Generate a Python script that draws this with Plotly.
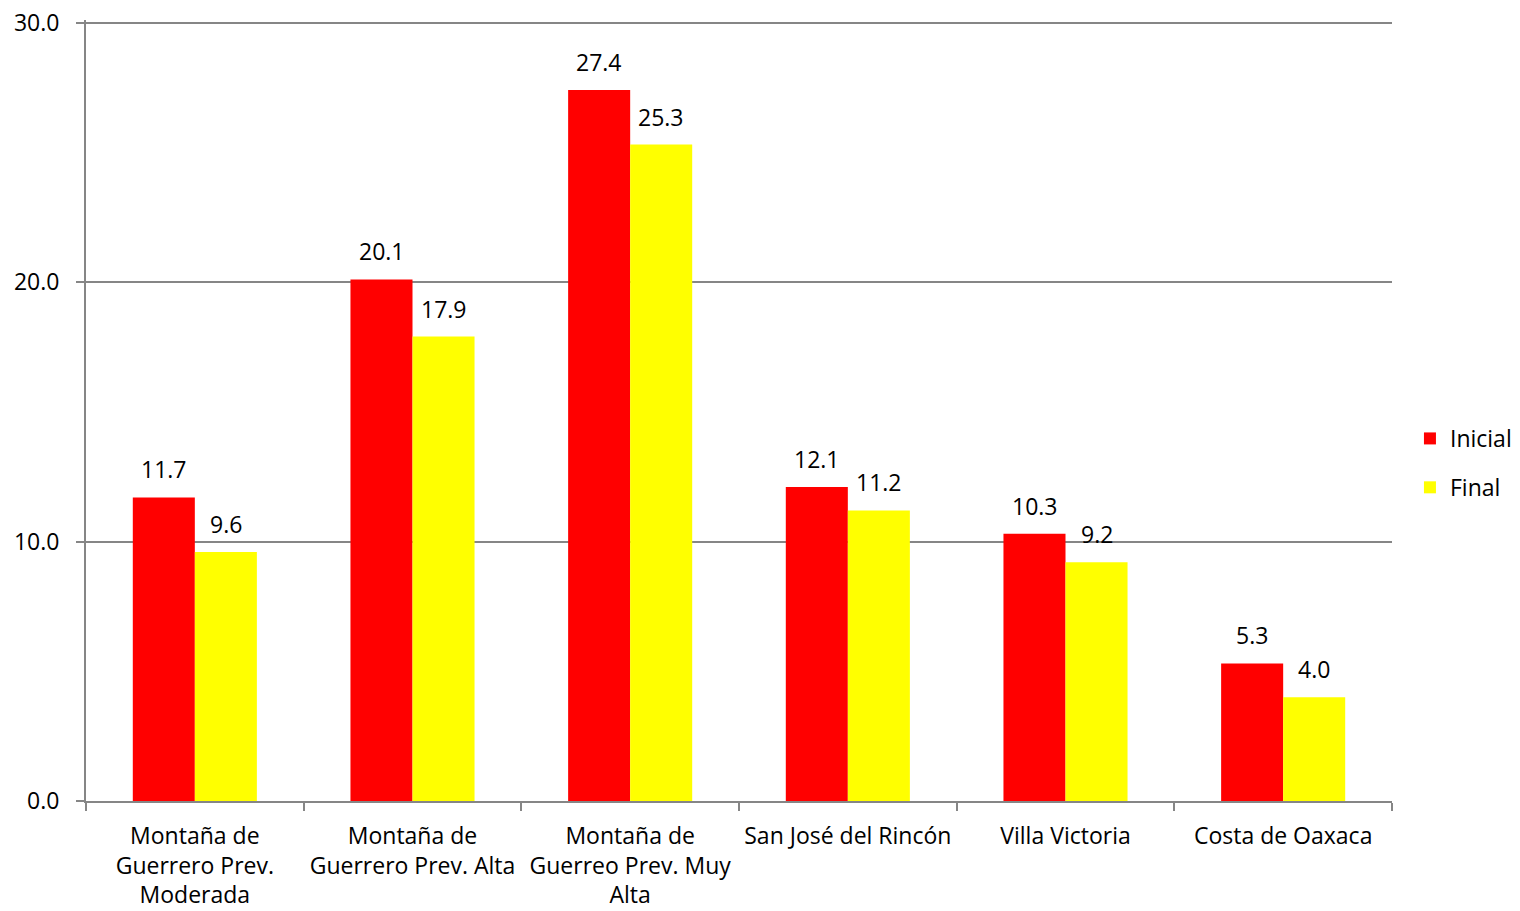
import plotly.graph_objects as go

categories = [
    "Montaña de<br>Guerrero Prev.<br>Moderada",
    "Montaña de<br>Guerrero Prev. Alta",
    "Montaña de<br>Guerreo Prev. Muy<br>Alta",
    "San José del Rincón",
    "Villa Victoria",
    "Costa de Oaxaca",
]
inicial = [11.7, 20.1, 27.4, 12.1, 10.3, 5.3]
final = [9.6, 17.9, 25.3, 11.2, 9.2, 4.0]

FONT = "Open Sans"
FS = 23

fig = go.Figure()

fig.add_trace(go.Bar(
    x=categories, y=inicial, name="Inicial", legendgroup="a",
    marker=dict(color="#ff0000", line=dict(width=0)),
))
fig.add_trace(go.Bar(
    x=categories, y=final, name="Final", legendgroup="b",
    marker=dict(color="#ffff00", line=dict(width=0)),
))

# value labels above each bar (offset half a bar to the left/right)
for cat, vi, vf in zip(categories, inicial, final):
    for val, shift in ((vi, -31), (vf, 31)):
        fig.add_annotation(
            x=cat, y=val, text=f"{val:.1f}", showarrow=False,
            xshift=shift, yshift=28, yanchor="middle",
            font=dict(family=FONT, size=FS, color="#000000"),
        )

fig.update_layout(
    width=1520, height=911,
    margin=dict(l=86, r=128, t=20, b=110),
    barmode="group", bargap=0.43, bargroupgap=0,
    plot_bgcolor="white", paper_bgcolor="white",
    font=dict(family=FONT, size=FS, color="#000000"),
    showlegend=True,
    legend=dict(xref="container", yref="container", x=0.9276, y=0.4918,
                xanchor="left", yanchor="middle",
                font=dict(family=FONT, size=FS), traceorder="grouped",
                tracegroupgap=16, itemwidth=30, bgcolor="rgba(0,0,0,0)"),
)

fig.update_xaxes(
    automargin=False, tickangle=0, ticklabelstandoff=13,
    showline=True, linecolor="#868686", linewidth=2,
    ticks="outside", tickson="boundaries", ticklen=8, tickcolor="#868686",
    tickwidth=2, showgrid=False,
    tickfont=dict(family=FONT, size=FS, color="#000000"),
)

# range a hair above 30 so the top gridline is still drawn
fig.update_yaxes(
    automargin=False, ticklabelstandoff=12, ticklabeloverflow="allow",
    range=[0, 30.1], tickvals=[0, 10, 20, 30], tickformat=".1f",
    showline=True, linecolor="#868686", linewidth=2,
    ticks="outside", ticklen=8, tickcolor="#868686", tickwidth=2,
    showgrid=True, gridcolor="#868686", gridwidth=1.5,
    zeroline=False,
    tickfont=dict(family=FONT, size=FS, color="#000000"),
)

# drop the default 8px body margin so the figure fills the window exactly
fig.write_html("out.html", config={"displayModeBar": False},
               post_script="document.body.style.margin='0';")
